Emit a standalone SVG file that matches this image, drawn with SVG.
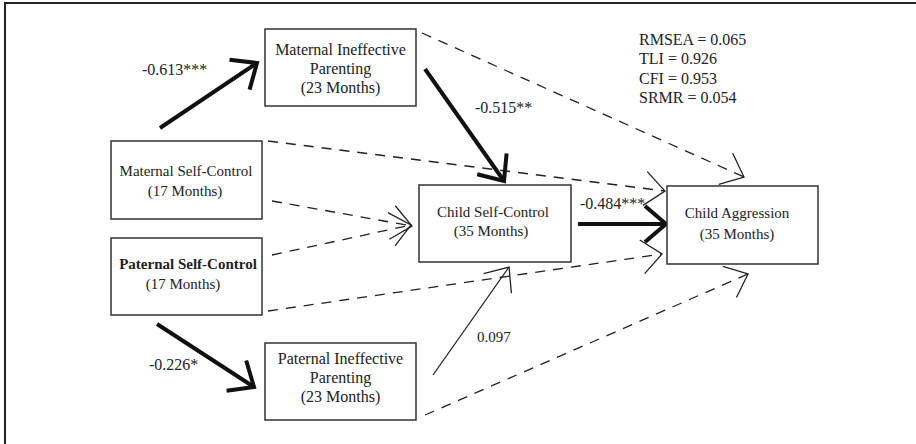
<svg xmlns="http://www.w3.org/2000/svg" width="916" height="444" viewBox="0 0 916 444">
<style>
.box{fill:#fff;stroke:#333;stroke-width:1.5}
.t{font-family:"Liberation Serif","Times New Roman",serif;font-size:16px;fill:#222;text-anchor:middle}
.ts{font-family:"Liberation Serif","Times New Roman",serif;font-size:15px;fill:#222;text-anchor:middle}
.lbl{font-family:"Liberation Serif","Times New Roman",serif;font-size:16px;fill:#222}
.thick{fill:none;stroke:#111;stroke-width:4;marker-end:url(#ahThick)}
.thin{fill:none;stroke:#222;stroke-width:1.3;marker-end:url(#ahThin)}
.dash{fill:none;stroke:#222;stroke-width:1.3;stroke-dasharray:10 8;marker-end:url(#ahThin)}
</style>
<defs>
<marker id="ahThick" markerUnits="userSpaceOnUse" viewBox="-30 -26 36 52" markerWidth="36" markerHeight="52" refX="0" refY="0" orient="auto" overflow="visible">
<path d="M-21,-18 L0,0 L-21,18" fill="none" stroke="#111" stroke-width="4" stroke-dasharray="none"/>
</marker>
<marker id="ahThin" markerUnits="userSpaceOnUse" viewBox="-30 -26 36 52" markerWidth="36" markerHeight="52" refX="0" refY="0" orient="auto" overflow="visible">
<path d="M-20,-17 L0,0 L-20,17" fill="none" stroke="#222" stroke-width="1.3" stroke-dasharray="none"/>
</marker>
</defs>
<rect width="916" height="444" fill="#fff"/>
<path d="M5,444 L5,3 L916,3" fill="none" stroke="#222" stroke-width="2"/>

<g id="connectors">
<path class="dash" d="M422,33 L744,177"/>
<path class="dash" d="M268,141 L665,191"/>
<path class="dash" d="M272,201 L412,226"/>
<path class="dash" d="M272,255 L411,225"/>
<path class="dash" d="M268,311 L662,254"/>
<path class="dash" d="M425,415 L748,274"/>
<path class="thin" d="M433,375 L509,267"/>
<path class="thick" d="M160,128 L257,63"/>
<path class="thick" d="M425,69 L504,181"/>
<path class="thick" d="M578,224 L666,224"/>
<path class="thick" d="M157,324 L254,387"/>
</g>

<g id="labels">
<text class="lbl" x="142" y="75">-0.613***</text>
<text class="lbl" x="475" y="113">-0.515**</text>
<text class="lbl" x="580" y="209">-0.484***</text>
<text class="lbl" x="149" y="370">-0.226*</text>
<text class="lbl" x="477" y="342" style="font-size:15px">0.097</text>
</g>

<g id="fit-stats">
<text class="lbl" x="639" y="45">RMSEA = 0.065</text>
<text class="lbl" x="639" y="64">TLI = 0.926</text>
<text class="lbl" x="639" y="84">CFI = 0.953</text>
<text class="lbl" x="639" y="103">SRMR = 0.054</text>
</g>

<g id="maternal-ineffective">
<rect class="box" x="265" y="29" width="151" height="77"/>
<text class="t" x="340.5" y="55">Maternal Ineffective</text>
<text class="t" x="340.5" y="74">Parenting</text>
<text class="t" x="340.5" y="93">(23 Months)</text>
</g>

<g id="maternal-self-control">
<rect class="box" x="111" y="141" width="151" height="78"/>
<text class="ts" x="186" y="176">Maternal Self-Control</text>
<text class="ts" x="185" y="196">(17 Months)</text>
</g>

<g id="paternal-self-control">
<rect class="box" x="111" y="238" width="151" height="77"/>
<text class="ts" x="188" y="269" font-weight="bold">Paternal Self-Control</text>
<text class="ts" x="183" y="289">(17 Months)</text>
</g>

<g id="paternal-ineffective">
<rect class="box" x="265" y="343" width="151" height="77"/>
<text class="t" x="340.5" y="364">Paternal Ineffective</text>
<text class="t" x="340.5" y="383">Parenting</text>
<text class="t" x="340.5" y="402">(23 Months)</text>
</g>

<g id="child-self-control">
<rect class="box" x="419" y="185" width="152" height="77"/>
<text class="ts" x="493" y="217">Child Self-Control</text>
<text class="ts" x="491" y="236">(35 Months)</text>
</g>

<g id="child-aggression">
<rect class="box" x="667" y="186" width="151" height="78"/>
<text class="ts" x="737" y="218">Child Aggression</text>
<text class="ts" x="737" y="239">(35 Months)</text>
</g>
</svg>
